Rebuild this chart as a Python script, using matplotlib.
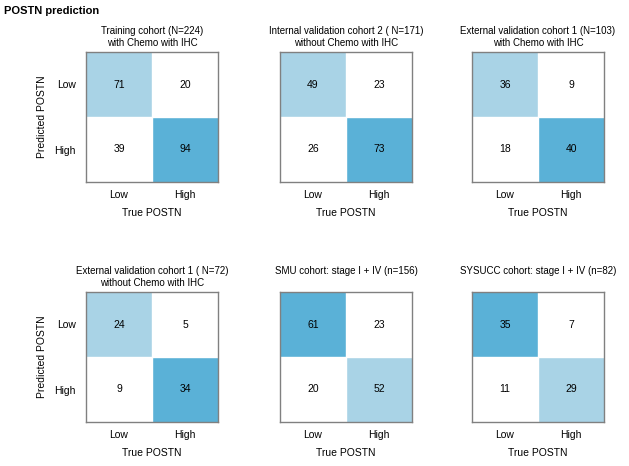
import numpy as np
import matplotlib
matplotlib.use("Agg")
import matplotlib.pyplot as plt
from matplotlib.colors import ListedColormap

plt.rcParams['font.family'] = ['Liberation Sans', 'DejaVu Sans']

# confusion matrices: rows = predicted (Low, High), cols = true (Low, High)
titles = [
    "Training cohort (N=224)\nwith Chemo with IHC",
    "Internal validation cohort 2 ( N=171)\nwithout Chemo with IHC",
    "External validation cohort 1 (N=103)\nwith Chemo with IHC",
    "External validation cohort 1 ( N=72)\nwithout Chemo with IHC",
    "SMU cohort: stage I + IV (n=156)",
    "SYSUCC cohort: stage I + IV (n=82)",
]
train = [[71, 20], [39, 94]]
internal2 = [[49, 23], [26, 73]]
external1_chemo = [[36, 9], [18, 40]]
external1_nochemo = [[24, 5], [9, 34]]
smu = [[61, 23], [20, 52]]
sysucc = [[35, 7], [11, 29]]
matrices = [train, internal2, external1_chemo, external1_nochemo, smu, sysucc]
labels = ["Low", "High"]

cmap = ListedColormap(["white", "#a9d3e6", "#5ab1d7"])

fig = plt.figure(figsize=(6.29, 4.66), dpi=100)
fig.text(0.006, 0.988, "POSTN prediction", fontsize=8, fontweight='bold',
         va='top', ha='left')

lefts = [86/629, 280/629, 472/629]
bottoms = [(466-182)/466, (466-422)/466]
w, h = 132/629, 130/466

for i, (mat, title) in enumerate(zip(matrices, titles)):
    m = np.array(mat)
    # diagonal shading: larger correct count darker, smaller lighter
    idx = np.zeros((2, 2), dtype=int)
    d = np.diag(m)
    idx[0, 0] = 2 if d[0] > d[1] else 1
    idx[1, 1] = 2 if d[1] >= d[0] else 1
    r, c = divmod(i, 3)
    ax = fig.add_axes([lefts[c], bottoms[r], w, h])
    ax.imshow(idx, cmap=cmap, vmin=0, vmax=2, aspect='auto')
    for y in range(2):
        for x in range(2):
            ax.text(x, y, str(m[y, x]), ha='center', va='center', fontsize=7.5)
    ax.axhline(0.5, color='white', lw=1)
    ax.axvline(0.5, color='white', lw=1)
    ax.set_xticks([0, 1])
    ax.set_xticklabels(labels, fontsize=7.5)
    ax.set_yticks([0, 1])
    ax.set_yticklabels(labels if c == 0 else [], fontsize=7.5)
    ax.tick_params(axis='x', length=0, pad=6)
    ax.tick_params(axis='y', length=0, pad=7.5)
    ax.set_xlabel("True POSTN", fontsize=7.5, labelpad=5.5)
    if c == 0:
        ax.set_ylabel("Predicted POSTN", fontsize=7.5, labelpad=5.5)
    if "\n" not in title:
        title = title + "\n "
    ax.set_title(title, fontsize=7, pad=4, linespacing=1.3)
    for s in ax.spines.values():
        s.set_color('#808080')
        s.set_linewidth(1)

fig.savefig("out.png", dpi=100)
